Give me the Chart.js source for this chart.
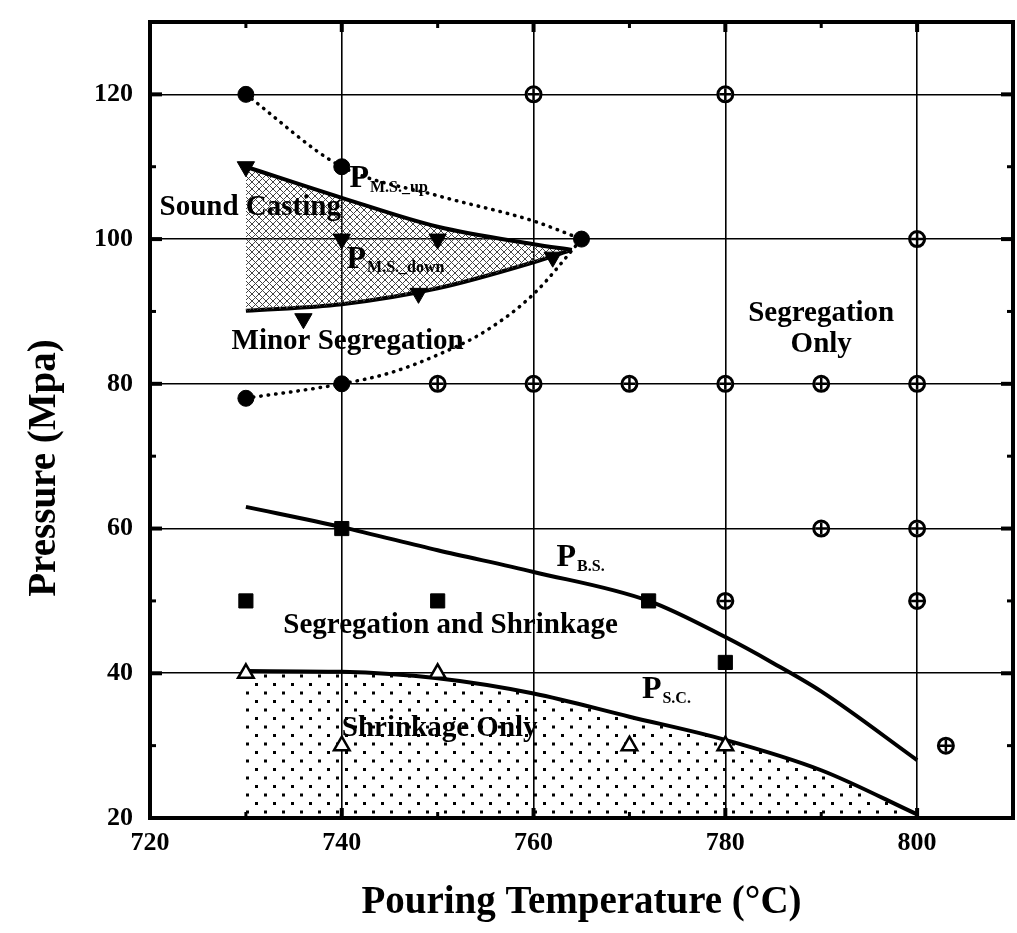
<!DOCTYPE html>
<html>
<head>
<meta charset="utf-8">
<title>Pressure vs Pouring Temperature</title>
<script src="https://cdn.jsdelivr.net/npm/chart.js@4/dist/chart.umd.min.js"></script>
<style>
    html, body { margin: 0; padding: 0; background: #fff; }
    #wrap { width: 1017px; height: 933px; }
</style>
</head>
<body>
<div id="wrap"><canvas id="pressureChart" width="1017" height="933"></canvas></div>
<script>
// axis ticks
const xTicks = [720, 740, 760, 780, 800];
const yTicks = [20, 40, 60, 80, 100, 120];
const xMinorTicks = [730, 750, 770, 790];
const yMinorTicks = [30, 50, 70, 90, 110];

// test points
const filledCircleX = [730, 740, 765, 740, 730];
const filledCircleY = [120, 110, 100, 80, 78];
const downTriangleX = [730, 740, 750, 762, 736, 748];
const downTriangleY = [110, 100, 100, 97.5, 89, 92.5];
const squareX = [730, 740, 750, 772, 780];
const squareY = [50, 60, 50, 50, 41.5];
const openTriangleX = [730, 740, 750, 770, 780];
const openTriangleY = [40, 30, 40, 30, 30];
const crossCircleX = [760, 780, 800, 750, 760, 770, 780, 790, 800, 790, 800, 780, 800, 803];
const crossCircleY = [120, 120, 100, 80, 80, 80, 80, 80, 80, 60, 60, 50, 50, 30];

// boundary curves
const msDotUpperX = [730, 740, 750, 760, 765];
const msDotUpperY = [120, 110, 106, 102.5, 100];
const msDotLowerX = [730, 740, 745, 750, 755, 760, 765];
const msDotLowerY = [78, 80, 81.5, 84, 87.3, 92.4, 100];
const msUpX = [730, 740, 750, 760, 764];
const msUpY = [110, 105.7, 101.7, 99.3, 98.5];
const msDownX = [730, 740, 750, 760, 764];
const msDownY = [90.1, 91, 93.2, 96.8, 98.5];
const bsX = [730, 740, 750, 760, 772, 780, 785, 790, 800];
const bsY = [63, 60.2, 57, 54, 50, 45, 41.4, 37.5, 28];
const scX = [730, 740, 750, 760, 770, 780, 790, 800];
const scY = [40.3, 40.2, 39.3, 37.2, 34, 30.8, 26.6, 20.5];

const FONT = '"Liberation Serif", "Times New Roman", serif';

const regionLabels = [
    { text: "Sound Casting", x: 721, y: 104.3, align: "left" },
    { text: "Minor Segregation", x: 728.5, y: 85.8, align: "left" },
    { text: "Segregation", x: 790, y: 89.7, align: "center" },
    { text: "Only", x: 790, y: 85.4, align: "center" },
    { text: "Segregation and Shrinkage", x: 733.9, y: 46.6, align: "left" },
    { text: "Shrinkage Only", x: 740, y: 32.3, align: "left" }
];

const curveLabels = [
    { main: "P", sub: "M.S._up", x: 740.8, y: 108.3 },
    { main: "P", sub: "M.S._down", x: 740.5, y: 97.2 },
    { main: "P", sub: "B.S.", x: 762.4, y: 56 },
    { main: "P", sub: "S.C.", x: 771.3, y: 37.7 }
];

function toPoints(xs, ys) {
    return xs.map((x, i) => ({ x: x, y: ys[i] }));
}

function makePattern(ctx, w, h, draw) {
    const c = document.createElement("canvas");
    c.width = w;
    c.height = h;
    const pctx = c.getContext("2d");
    draw(pctx);
    return ctx.createPattern(c, "repeat");
}

const frameAndLabels = {
    id: "frameAndLabels",
    afterDatasetsDraw(chart) {
        const ctx = chart.ctx;
        const xs = chart.scales.x;
        const ys = chart.scales.y;
        ctx.save();
        ctx.fillStyle = "#000";
        ctx.textBaseline = "middle";
        ctx.font = "bold 29px " + FONT;
        regionLabels.forEach(l => {
            ctx.textAlign = l.align;
            ctx.fillText(l.text, xs.getPixelForValue(l.x), ys.getPixelForValue(l.y));
        });
        ctx.textAlign = "left";
        curveLabels.forEach(l => {
            const px = xs.getPixelForValue(l.x);
            const py = ys.getPixelForValue(l.y);
            ctx.font = "bold 32px " + FONT;
            ctx.fillText(l.main, px, py);
            const w = ctx.measureText(l.main).width;
            ctx.font = "bold 16px " + FONT;
            ctx.fillText(l.sub, px + w + 1, py + 9);
        });
        ctx.restore();
    },
    afterDraw(chart) {
        const ctx = chart.ctx;
        const { left, right, top, bottom } = chart.chartArea;
        const xs = chart.scales.x;
        const ys = chart.scales.y;
        ctx.save();
        ctx.strokeStyle = "#000";
        ctx.lineWidth = 4;
        ctx.strokeRect(left, top, right - left, bottom - top);

        const tick = (x1, y1, x2, y2, w) => {
            ctx.lineWidth = w;
            ctx.beginPath();
            ctx.moveTo(x1, y1);
            ctx.lineTo(x2, y2);
            ctx.stroke();
        };
        xTicks.forEach(v => {
            const p = xs.getPixelForValue(v);
            tick(p, bottom, p, bottom - 10, 4);
            tick(p, top, p, top + 10, 4);
        });
        xMinorTicks.forEach(v => {
            const p = xs.getPixelForValue(v);
            tick(p, bottom, p, bottom - 6, 3);
            tick(p, top, p, top + 6, 3);
        });
        yTicks.forEach(v => {
            const p = ys.getPixelForValue(v);
            tick(left, p, left + 12, p, 4);
            tick(right, p, right - 12, p, 4);
        });
        yMinorTicks.forEach(v => {
            const p = ys.getPixelForValue(v);
            tick(left, p, left + 6, p, 3);
            tick(right, p, right - 6, p, 3);
        });

        // y title, drawn by hand so it can sit a bit low like the original
        ctx.translate(45, 468);
        ctx.rotate(-Math.PI / 2);
        ctx.textAlign = "center";
        ctx.textBaseline = "middle";
        ctx.fillStyle = "#000";
        ctx.font = "bold 39px " + FONT;
        ctx.fillText("Pressure (Mpa)", 0, 0);
        ctx.restore();
    }
};

document.addEventListener("DOMContentLoaded", function () {
    const canvas = document.getElementById("pressureChart");
    const ctx = canvas.getContext("2d");

    const hatch = makePattern(ctx, 7, 7, p => {
        p.strokeStyle = "#444";
        p.lineWidth = 1;
        p.beginPath();
        p.moveTo(0, 0); p.lineTo(7, 7);
        p.moveTo(0, 7); p.lineTo(7, 0);
        p.stroke();
    });
    const dots = makePattern(ctx, 18, 17, p => {
        p.fillStyle = "#000";
        p.fillRect(3, 3, 3, 3);
        p.fillRect(12, 11.5, 3, 3);
    });

    const curve = (xs, ys, extra) => Object.assign({
        data: toPoints(xs, ys),
        borderColor: "#000",
        borderWidth: 4,
        pointRadius: 0,
        cubicInterpolationMode: "monotone",
        fill: false
    }, extra);

    const markers = (xs, ys, extra) => Object.assign({
        data: toPoints(xs, ys),
        showLine: false,
        borderColor: "#000",
        backgroundColor: "#000",
        borderWidth: 1
    }, extra);

    new Chart(ctx, {
        type: "line",
        data: {
            datasets: [
                markers(crossCircleX, crossCircleY, { pointStyle: "cross", pointRadius: 6, borderWidth: 2.5 }),
                markers(crossCircleX, crossCircleY, { pointStyle: "circle", pointRadius: 7.5, borderWidth: 3, backgroundColor: "#fff" }),
                markers(filledCircleX, filledCircleY, { pointStyle: "circle", pointRadius: 8 }),
                markers(downTriangleX, downTriangleY, { pointStyle: "triangle", pointRotation: 180, pointRadius: 10 }),
                markers(squareX, squareY, { pointStyle: "rect", pointRadius: 10 }),
                markers(openTriangleX, openTriangleY, { pointStyle: "triangle", pointRadius: 9, borderWidth: 2.5, backgroundColor: "#fff" }),
                curve(msDotUpperX, msDotUpperY, { borderWidth: 3.5, borderDash: [0.5, 7], borderCapStyle: "round" }),
                curve(msDotLowerX, msDotLowerY, { borderWidth: 3.5, borderDash: [0.5, 7], borderCapStyle: "round" }),
                curve(msUpX, msUpY, { fill: "+1", backgroundColor: hatch }),
                curve(msDownX, msDownY),
                curve(bsX, bsY),
                curve(scX, scY, { fill: "start", backgroundColor: dots })
            ]
        },
        options: {
            responsive: false,
            animation: false,
            layout: { autoPadding: false, padding: { top: 22, right: 4, bottom: 0, left: 0 } },
            plugins: {
                legend: { display: false },
                tooltip: { enabled: false }
            },
            scales: {
                x: {
                    type: "linear",
                    min: 720,
                    max: 810,
                    afterBuildTicks: s => { s.ticks = xTicks.map(v => ({ value: v })); },
                    afterFit: s => {
                        s.height = 115;
                        s.paddingLeft = 0;
                        s.paddingRight = 0;
                    },
                    border: { display: false },
                    grid: { color: "#000", lineWidth: 1.6, drawTicks: false },
                    ticks: {
                        color: "#000",
                        padding: 10,
                        maxRotation: 0,
                        autoSkip: false,
                        font: { family: FONT, size: 26, weight: "bold" }
                    },
                    title: {
                        display: true,
                        text: "Pouring Temperature (°C)",
                        color: "#000",
                        padding: { top: 0, bottom: 7 },
                        font: { family: FONT, size: 39, weight: "bold" }
                    }
                },
                y: {
                    type: "linear",
                    min: 20,
                    max: 130,
                    afterBuildTicks: s => { s.ticks = yTicks.map(v => ({ value: v })); },
                    afterFit: s => {
                        s.width = 150;
                        s.paddingTop = 0;
                        s.paddingBottom = 0;
                    },
                    border: { display: false },
                    grid: { color: "#000", lineWidth: 1.6, drawTicks: false },
                    ticks: {
                        color: "#000",
                        padding: 17,
                        autoSkip: false,
                        font: { family: FONT, size: 26, weight: "bold" }
                    }
                }
            }
        },
        plugins: [frameAndLabels]
    });
});
</script>
</body>
</html>
